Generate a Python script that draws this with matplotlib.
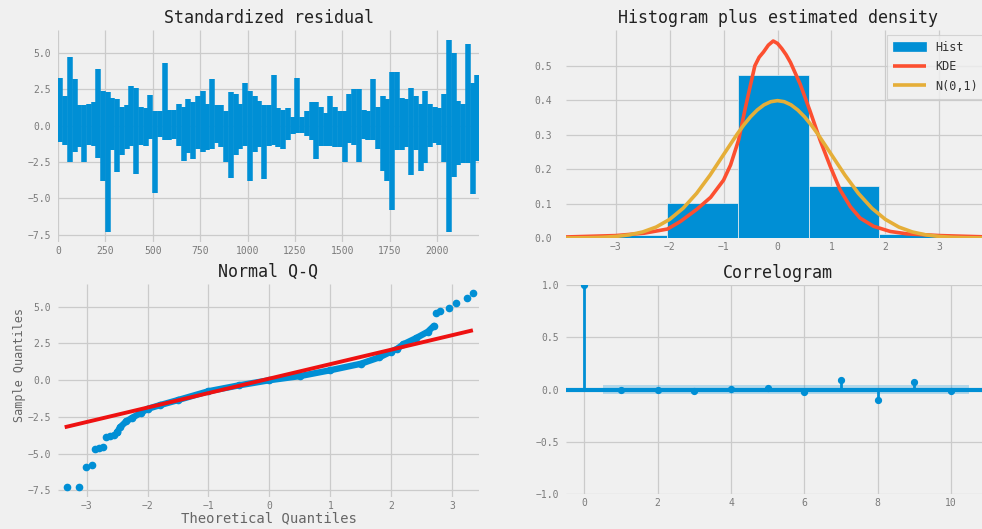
import numpy as np
import matplotlib
matplotlib.use('Agg')
import matplotlib.pyplot as plt
from matplotlib.patches import Patch
from matplotlib.lines import Line2D

plt.style.use('fivethirtyeight')
plt.rcParams['font.family'] = ['DejaVu Sans Mono', 'DejaVu Sans']
plt.rcParams['axes.unicode_minus'] = True

BLUE = '#008fd5'
RED = '#fc4f30'
GOLD = '#e5ae38'
BG = '#f0f0f0'
TICK_C = '#7a7a7a'
LABEL_C = '#666666'

# ---------------- data ----------------
# Standardized residual: max / min within consecutive blocks of 25 observations
resid_block = 25
n_obs = 2222
resid_hi = [3.3, 2.0, 4.7, 3.2, 1.4, 1.4, 1.5, 1.6, 3.9, 2.4,
            2.3, 1.9, 1.8, 1.3, 1.4, 2.7, 2.6, 1.3, 1.2, 2.1,
            1.0, 1.0, 4.3, 1.1, 1.1, 1.5, 1.3, 1.8, 1.6, 2.0,
            2.4, 1.5, 3.2, 1.4, 1.4, 1.0, 2.3, 2.2, 1.5, 2.9,
            2.4, 2.0, 1.7, 1.4, 1.4, 3.5, 1.2, 1.1, 1.2, 0.6,
            3.3, 0.6, 1.0, 1.6, 1.6, 1.3, 0.9, 2.0, 1.3, 1.0,
            1.0, 2.2, 2.5, 2.5, 1.1, 1.0, 3.2, 1.3, 2.0, 1.8,
            3.7, 3.7, 1.9, 1.8, 2.6, 2.0, 1.5, 2.4, 1.5, 1.3,
            1.2, 2.2, 5.9, 5.0, 1.7, 1.5, 5.6, 2.9, 3.5]
resid_lo = [-1.1, -1.3, -2.5, -1.8, -1.5, -2.5, -1.3, -1.4, -2.2, -3.8,
            -7.3, -1.7, -3.2, -2.0, -1.6, -1.4, -3.3, -1.3, -1.4, -0.9,
            -4.6, -0.8, -1.0, -1.0, -0.9, -1.4, -2.4, -1.9, -2.3, -1.6,
            -1.8, -1.7, -1.6, -1.2, -1.5, -2.5, -3.6, -2.0, -1.6, -1.4,
            -3.8, -1.8, -1.5, -3.7, -1.4, -1.3, -1.5, -1.6, -1.0, -0.6,
            -0.5, -0.5, -0.7, -1.0, -2.3, -1.4, -1.4, -1.4, -1.5, -1.5,
            -2.5, -1.2, -1.3, -2.5, -0.9, -1.0, -1.0, -1.6, -3.1, -3.8,
            -5.8, -1.7, -1.7, -1.5, -3.4, -1.7, -3.1, -2.6, -1.5, -1.2,
            -1.3, -2.5, -7.3, -3.5, -2.7, -2.6, -2.6, -4.7, -2.4]

# Histogram plus estimated density
hist_edges = [-7.28, -5.97, -4.66, -3.35, -2.04, -0.73, 0.58, 1.89, 3.20, 4.51, 5.82]
hist_density = [0.001, 0.002, 0.004, 0.010, 0.102, 0.473, 0.150, 0.012, 0.003, 0.001]
kde_x = [-3.92, -3.0, -2.47, -2.04, -1.8, -1.61, -1.49, -1.24, -1.0, -0.87, -0.72,
         -0.6, -0.5, -0.42, -0.34, -0.26, -0.17, -0.08, 0.0, 0.08, 0.16, 0.24, 0.42,
         0.6, 0.79, 0.98, 1.16, 1.35, 1.53, 1.78, 2.09, 2.4, 3.01, 3.92]
kde_y = [0.003, 0.007, 0.014, 0.026, 0.048, 0.070, 0.084, 0.118, 0.168, 0.212, 0.285,
         0.375, 0.445, 0.500, 0.525, 0.540, 0.560, 0.572, 0.565, 0.550, 0.532, 0.510, 0.447,
         0.370, 0.284, 0.207, 0.140, 0.091, 0.058, 0.034, 0.019, 0.012, 0.007, 0.003]
norm_x = [-3.92, -3.75, -3.5, -3.25, -3.0, -2.75, -2.5, -2.25, -2.0, -1.75, -1.5,
          -1.25, -1.0, -0.875, -0.75, -0.625, -0.5, -0.375, -0.25, -0.125, 0.0,
          0.125, 0.25, 0.375, 0.5, 0.625, 0.75, 0.875, 1.0, 1.25, 1.5,
          1.75, 2.0, 2.25, 2.5, 2.75, 3.0, 3.25, 3.5, 3.75, 3.92]
norm_y = [0.0002, 0.0004, 0.0009, 0.0020, 0.0044, 0.0091, 0.0175, 0.0317, 0.0540, 0.0863, 0.1295,
          0.1826, 0.2420, 0.2716, 0.3011, 0.3282, 0.3521, 0.3718, 0.3867, 0.3958, 0.3989,
          0.3958, 0.3867, 0.3718, 0.3521, 0.3282, 0.3011, 0.2716, 0.2420, 0.1826, 0.1295,
          0.0863, 0.0540, 0.0317, 0.0175, 0.0091, 0.0044, 0.0020, 0.0009, 0.0004, 0.0002]

# Normal Q-Q
qq_tail_lo_th = [-3.33, -3.13, -3.01, -2.92, -2.86, -2.80, -2.73, -2.68, -2.62, -2.55, -2.50]
qq_tail_lo_s = [-7.25, -7.25, -5.90, -5.80, -4.65, -4.60, -4.55, -3.85, -3.80, -3.75, -3.55]
qq_body_th = [-2.50, -2.45, -2.35, -2.25, -2.10, -2.00, -1.80, -1.50, -1.00, -0.50, 0.00,
              0.50, 1.00, 1.50, 1.80, 2.00, 2.10, 2.20, 2.40, 2.60, 2.70]
qq_body_s = [-3.55, -3.20, -2.80, -2.55, -2.20, -1.95, -1.70, -1.35, -0.75, -0.35, 0.00,
             0.28, 0.68, 1.12, 1.55, 1.95, 2.15, 2.45, 2.85, 3.30, 3.70]
qq_tail_hi_th = [2.73, 2.80, 2.94, 3.07, 3.24, 3.34]
qq_tail_hi_s = [4.55, 4.70, 4.95, 5.25, 5.60, 5.95]
qq_line_th = [-3.36, 3.34]
qq_line_s = [-3.20, 3.40]

# Correlogram
acf_lags = list(range(11))
acf_values = [1.0, -0.005, 0.0, -0.015, 0.005, 0.015, -0.02, 0.09, -0.10, 0.075, -0.01]
acf_conf = 0.042

# ---------------- figure ----------------
W, H = 982, 529
fig = plt.figure(figsize=(W / 100, H / 100), dpi=100, facecolor=BG)

def px_axes(l, t, r, b):
    return fig.add_axes([l / W, 1 - b / H, (r - l) / W, (b - t) / H])

ax_tl = px_axes(58, 30, 479, 242)
ax_tr = px_axes(566, 30, 989, 238)
ax_bl = px_axes(58, 284, 479, 497)
ax_br = px_axes(566, 285, 989, 494)

for ax in (ax_tl, ax_tr, ax_bl, ax_br):
    ax.set_facecolor(BG)
    for s in ax.spines.values():
        s.set_visible(False)
    ax.grid(True, color='#cbcbcb', linewidth=0.9)
    ax.set_axisbelow(True)
    ax.tick_params(axis='both', length=0, labelsize=7, colors=TICK_C)
    ax.tick_params(axis='x', pad=3)
    ax.tick_params(axis='y', pad=5)

TITLE_KW = dict(fontsize=12, color='#222222', pad=5)

# --- Standardized residual (each block drawn as a solid column from its min to its max)
block_centre = [i * resid_block + resid_block / 2 for i in range(len(resid_hi))]
block_px = 421 / (n_obs - 1) * resid_block          # block width in pixels
ax_tl.vlines(block_centre, resid_lo, resid_hi, color=BLUE,
             linewidth=(block_px + 0.8) * 0.72, capstyle='butt')
ax_tl.set_xlim(0, n_obs - 1)
ax_tl.set_ylim(-8.0, 6.57)
ax_tl.set_xticks([0, 250, 500, 750, 1000, 1250, 1500, 1750, 2000])
ax_tl.set_yticks([-7.5, -5.0, -2.5, 0.0, 2.5, 5.0])
ax_tl.set_yticklabels(['−7.5', '−5.0', '−2.5', '0.0', '2.5', '5.0'])
ax_tl.set_title('Standardized residual', **TITLE_KW)

# --- Histogram
widths = np.diff(hist_edges)
ax_tr.bar(hist_edges[:-1], hist_density, width=widths, align='edge', color=BLUE,
          edgecolor=BG, linewidth=0.5, zorder=2)
ax_tr.plot(kde_x, kde_y, color=RED, linewidth=2.6, zorder=3)
ax_tr.plot(norm_x, norm_y, color=GOLD, linewidth=2.6, zorder=3)
ax_tr.set_xlim(-3.92, 3.92)
ax_tr.set_ylim(0, 0.604)
ax_tr.set_xticks([-3, -2, -1, 0, 1, 2, 3])
ax_tr.set_xticklabels(['−3', '−2', '−1', '0', '1', '2', '3'])
ax_tr.set_yticks([0.0, 0.1, 0.2, 0.3, 0.4, 0.5])
ax_tr.tick_params(axis='y', pad=10)
ax_tr.set_title('Histogram plus estimated density', **TITLE_KW)
handles = [Patch(facecolor=BLUE, edgecolor=BLUE),
           Line2D([0], [0], color=RED, linewidth=2.6),
           Line2D([0], [0], color=GOLD, linewidth=2.6)]
leg = ax_tr.legend(handles, ['Hist', 'KDE', 'N(0,1)'], loc='upper right',
                   fontsize=8.5, handlelength=2.8, labelspacing=0.55,
                   frameon=True, facecolor=BG, edgecolor='#cccccc',
                   borderaxespad=0.4, borderpad=0.5, fancybox=False)
leg.get_frame().set_linewidth(0.8)
for t in leg.get_texts():
    t.set_color('#333333')

# --- Normal Q-Q
ax_bl.plot(qq_body_th, qq_body_s, color=BLUE, linewidth=4.6, marker='o',
           markersize=4.5, zorder=2, solid_capstyle='round')
ax_bl.plot(qq_tail_lo_th, qq_tail_lo_s, linestyle='none', marker='o',
           markersize=4.5, color=BLUE, zorder=2)
ax_bl.plot(qq_tail_hi_th, qq_tail_hi_s, linestyle='none', marker='o',
           markersize=4.5, color=BLUE, zorder=2)
ax_bl.plot(qq_line_th, qq_line_s, color='#ee1111', linewidth=2.8, zorder=3)
ax_bl.set_xlim(-3.47, 3.44)
ax_bl.set_ylim(-7.95, 6.55)
ax_bl.set_xticks([-3, -2, -1, 0, 1, 2, 3])
ax_bl.set_xticklabels(['−3', '−2', '−1', '0', '1', '2', '3'])
ax_bl.set_yticks([-7.5, -5.0, -2.5, 0.0, 2.5, 5.0])
ax_bl.set_yticklabels(['−7.5', '−5.0', '−2.5', '0.0', '2.5', '5.0'])
ax_bl.set_xlabel('Theoretical Quantiles', fontsize=10, color=LABEL_C, labelpad=0)
ax_bl.set_ylabel('Sample Quantiles', fontsize=8.5, color=LABEL_C)
ax_bl.yaxis.set_label_coords(-0.076, 0.62)
ax_bl.set_title('Normal Q-Q', **TITLE_KW)

# --- Correlogram
ax_br.fill_between([0.5, 10.5], [-acf_conf, -acf_conf], [acf_conf, acf_conf],
                   color=BLUE, alpha=0.25, linewidth=0, zorder=1)
ax_br.axhline(0, color=BLUE, linewidth=3, zorder=2)
ax_br.vlines(acf_lags, 0, acf_values, color=BLUE, linewidth=2.0, zorder=3)
ax_br.plot(acf_lags, acf_values, linestyle='none', marker='o', markersize=4.2,
           color=BLUE, zorder=4)
ax_br.set_xlim(-0.5, 11.04)
ax_br.set_ylim(-1.0, 1.0)
ax_br.set_xticks([0, 2, 4, 6, 8, 10])
ax_br.set_yticks([-1.0, -0.5, 0.0, 0.5, 1.0])
ax_br.set_yticklabels(['−1.0', '−0.5', '0.0', '0.5', '1.0'])
ax_br.set_title('Correlogram', **TITLE_KW)

fig.savefig('out.png', dpi=100, facecolor=BG)
